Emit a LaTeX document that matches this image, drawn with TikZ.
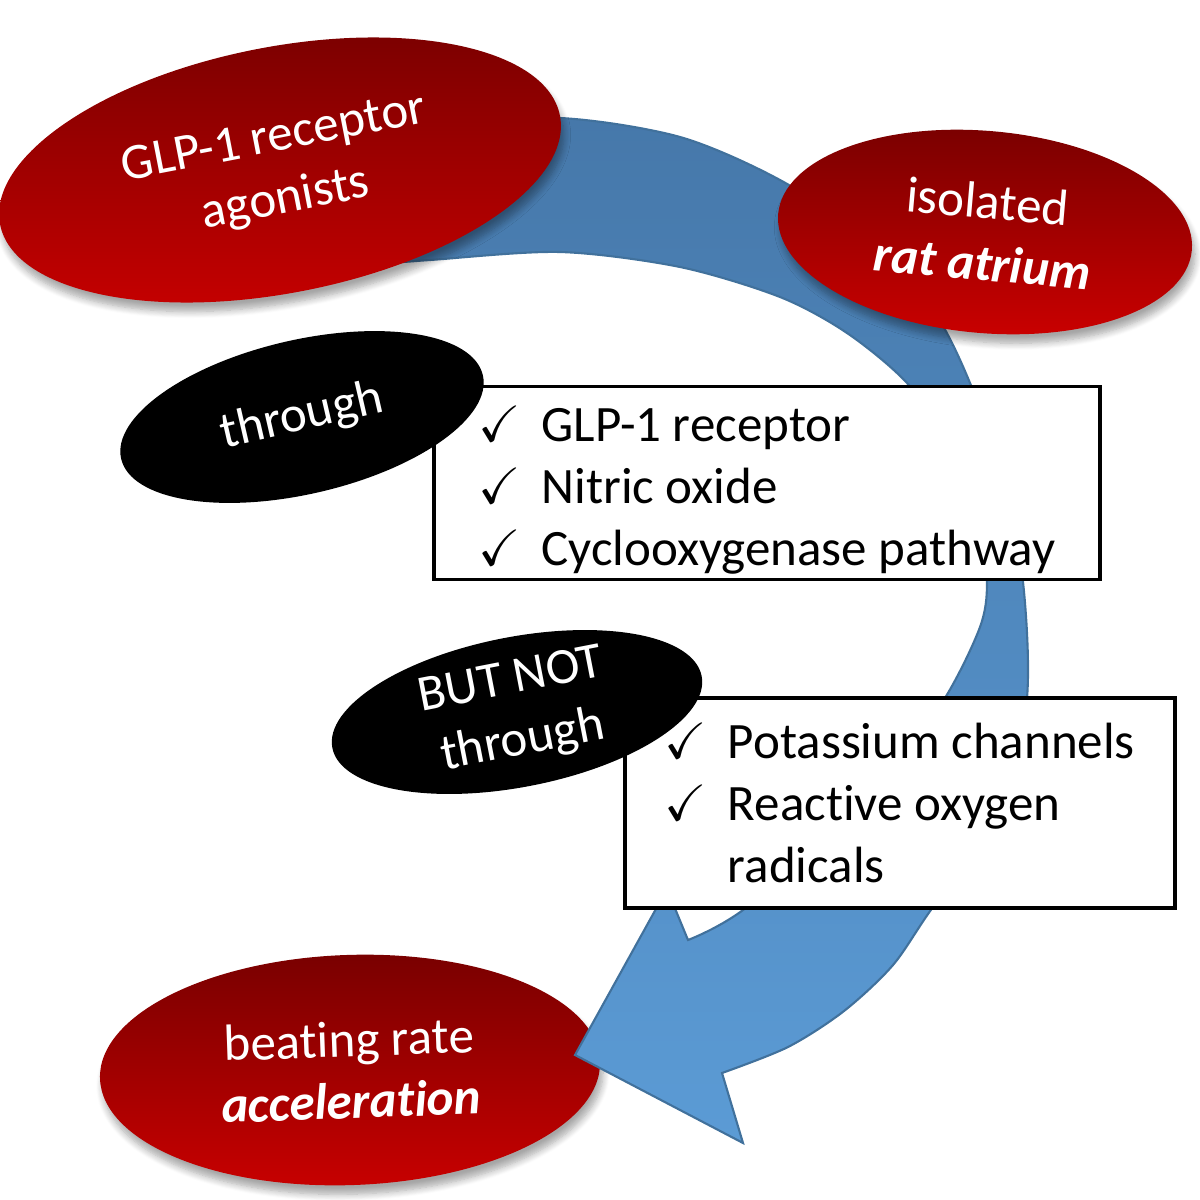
\documentclass[tikz,border=0pt]{standalone}
\usepackage{amssymb}
\usepackage{fontspec}
\setmainfont{Carlito}[Ligatures=NoCommon]
\usetikzlibrary{shapes.geometric, shadows.blur}

\definecolor{darkred}{RGB}{120,0,0}
\definecolor{lightred}{RGB}{200,0,0}
\definecolor{arrowtop}{RGB}{70,120,170}
\definecolor{arrowbot}{RGB}{91,155,213}
\definecolor{arrowline}{RGB}{65,113,156}

\newcommand{\ok}{\makebox[0.63cm][l]{$\checkmark$}}

\begin{document}
\begin{tikzpicture}[x=0.01cm, y=-0.01cm,
	redoval/.style={ellipse, inner sep=0, top color=darkred, bottom color=lightred, text=white, align=center,
		font=\fontsize{14.5}{17.6}\selectfont, blur shadow={shadow blur steps=8, shadow xshift=0.3mm, shadow yshift=-0.9mm, shadow opacity=35}},
	blackoval/.style={ellipse, inner sep=0, fill=black, text=white, align=center, font=\fontsize{14.5}{17.6}\selectfont},
	listbox/.style={draw, line width=1.1pt, fill=white, align=left, inner ysep=0pt, font=\fontsize{14.5}{17.6}\selectfont}]
	\useasboundingbox (0,0) rectangle (1200,1200);
	\node[redoval, minimum width=5cm, minimum height=2.3cm, rotate=2] (rate) at (350,1070) {beating rate\\\textbf{\textit{acceleration}}};
	% curved arrow
	\path[draw=arrowline, line width=0.6pt, top color=arrowtop, bottom color=arrowbot]
		plot[smooth] coordinates {(330,138) (430,125) (560,118) (680,137) (780,180) (870,240) (933,310) (970,383)
			(1003,480) (1023,582) (1027,698) (1003,815) (933,907) (893,965) (844,1011) (788,1047) (722,1073)}
		-- (743,1143) -- (575,1055) -- (667,889)
		-- plot[smooth] coordinates {(688,940) (747,907) (880,790) (945,698) (980,627) (987,582) (980,515) (955,450)
			(907,383) (847,333) (780,297) (680,267) (560,252) (430,260) (330,268)} -- cycle;
	\node[redoval, minimum width=5.7cm, minimum height=2.46cm, rotate=11] (glp) at (280,170) {GLP-1 receptor\\agonists};
	\node[redoval, minimum width=4.15cm, minimum height=2.02cm, rotate=-5] (atrium) at (985,232) {isolated\\\textbf{\textit{rat atrium}}};
	\node[listbox, minimum width=6.65cm, minimum height=1.93cm] (box1) at (767,483)
		{\rule{0pt}{14pt}\ok GLP-1 receptor\\\ok Nitric oxide\\\ok Cyclooxygenase pathway};
	\node[listbox, minimum width=5.5cm, minimum height=2.1cm] (box2) at (900,803)
		{\ok Potassium channels\\\ok Reactive oxygen\\\hspace*{0.63cm}radicals};
	\node[blackoval, minimum width=3.71cm, minimum height=1.54cm, rotate=13] (thru) at (302,417) {through};
	\node[blackoval, minimum width=3.76cm, minimum height=1.5cm, rotate=11] (butnot) at (517,712) {BUT NOT\\through};
\end{tikzpicture}
\end{document}
